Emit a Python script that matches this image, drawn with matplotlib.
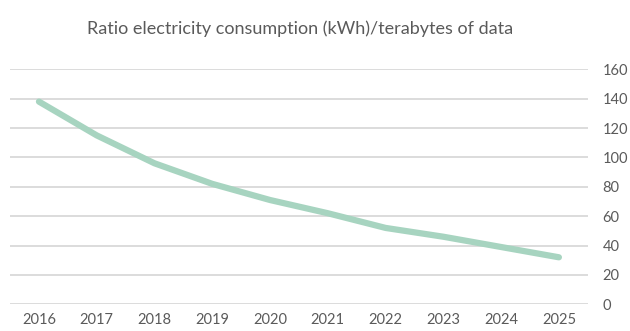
import matplotlib
matplotlib.use("Agg")
import matplotlib.pyplot as plt

years = [2016, 2017, 2018, 2019, 2020, 2021, 2022, 2023, 2024, 2025]
ratio_kwh_per_tb = [138, 115, 96, 82, 71, 62, 52, 46, 39, 32]
y_ticks = [0, 20, 40, 60, 80, 100, 120, 140, 160]

title = "Ratio electricity consumption (kWh)/terabytes of data"

plt.rcParams['font.family'] = ['Lato', 'DejaVu Sans']

fig = plt.figure(figsize=(6.30, 3.31), dpi=100)
ax = fig.add_axes([0.016, 0.0807, 0.917, 0.7099])

ax.plot(years, ratio_kwh_per_tb, color="#a7d4c0", linewidth=4.5,
        solid_capstyle="round", solid_joinstyle="round", zorder=3)

ax.set_xlim(2015.5, 2025.5)
ax.set_ylim(0, 160)
ax.set_xticks(years)
ax.set_yticks(y_ticks)
ax.yaxis.tick_right()
ax.grid(axis="y", color="#d2d2d2", linewidth=1.1)
ax.set_axisbelow(True)
for s in ax.spines.values():
    s.set_visible(False)
ax.tick_params(axis="both", length=0, labelsize=10.5, labelcolor="#5a5a5a")
ax.tick_params(axis="y", pad=10.5)
ax.tick_params(axis="x", pad=6)

fig.text(0.476, 0.913, title, ha="center", va="center",
         fontsize=13, color="#5a5a5a")

fig.savefig("out.png", dpi=100)
